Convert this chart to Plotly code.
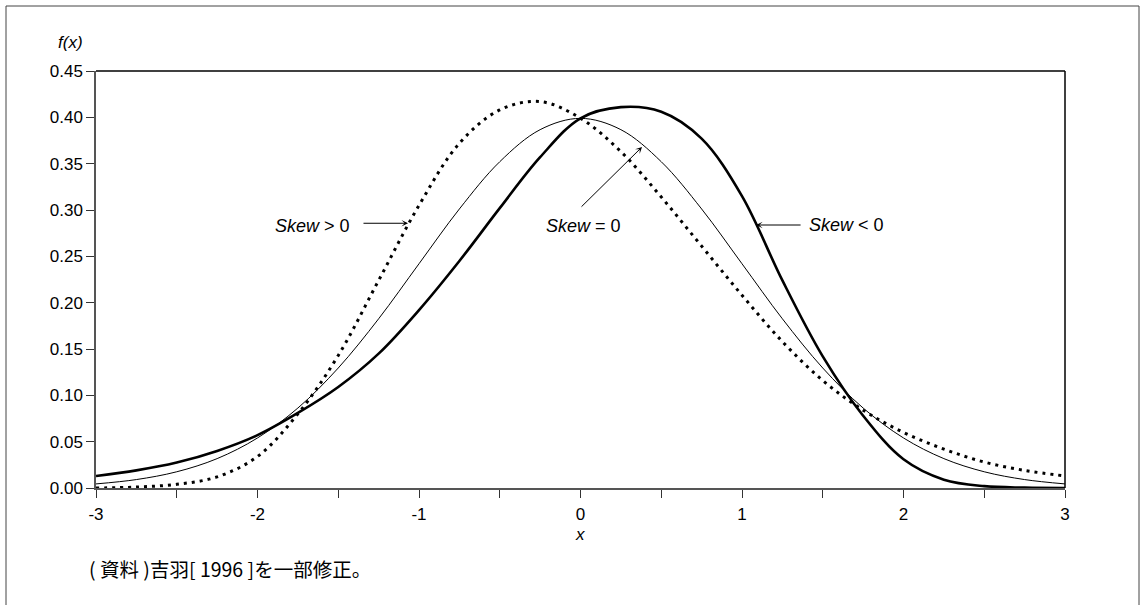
import plotly.graph_objects as go

# x grid (read positions)
x_vals = [-3.0, -2.75, -2.5, -2.25, -2.0, -1.75, -1.5, -1.25, -1.0, -0.75, -0.5, -0.25,
          0.0, 0.25, 0.5, 0.75, 1.0, 1.25, 1.5, 1.75, 2.0, 2.25, 2.5, 2.75, 3.0]

# Skew = 0 (thin solid)
f_skew_zero = [0.0044, 0.0091, 0.0175, 0.0317, 0.0540, 0.0863, 0.1295, 0.1826, 0.2420,
               0.3011, 0.3521, 0.3867, 0.3989, 0.3867, 0.3521, 0.3011, 0.2420, 0.1826,
               0.1295, 0.0863, 0.0540, 0.0317, 0.0175, 0.0091, 0.0044]

# Skew > 0 (dotted)
f_skew_pos = [0.000, 0.001, 0.004, 0.012, 0.034, 0.080, 0.143, 0.224, 0.305, 0.372,
              0.408, 0.417, 0.399, 0.363, 0.314, 0.261, 0.208, 0.158, 0.116, 0.084,
              0.060, 0.042, 0.028, 0.019, 0.013]

# Skew < 0 (thick solid)
f_skew_neg = [0.013, 0.019, 0.0275, 0.040, 0.057, 0.081, 0.109, 0.145, 0.192, 0.245,
              0.302, 0.357, 0.399, 0.411, 0.406, 0.377, 0.315, 0.224, 0.142, 0.078,
              0.031, 0.009, 0.002, 0.0004, 0.000]

x_tick_vals = [-3, -2.5, -2, -1.5, -1, -0.5, 0, 0.5, 1, 1.5, 2, 2.5, 3]
x_tick_text = ["-3", "", "-2", "", "-1", "", "0", "", "1", "", "2", "", "3"]
y_tick_vals = [0.0, 0.05, 0.10, 0.15, 0.20, 0.25, 0.30, 0.35, 0.40, 0.45]

FONT = "Liberation Sans, Arial, sans-serif"
W, H = 1143, 605
L, R, T, B = 96, 78, 71, 117
PW, PH = W - L - R, H - T - B

def px_to_paper(px, py):
    return (px - L) / PW, (H - B - py) / PH

fig = go.Figure()
fig.add_trace(go.Scatter(x=x_vals, y=f_skew_zero, mode="lines",
                         line=dict(color="black", width=1, shape="spline", smoothing=1.0),
                         showlegend=False, hoverinfo="skip"))
fig.add_trace(go.Scatter(x=x_vals, y=f_skew_pos, mode="lines",
                         line=dict(color="black", width=3, dash="3px,5px", shape="spline", smoothing=1.0),
                         showlegend=False, hoverinfo="skip"))
fig.add_trace(go.Scatter(x=x_vals, y=f_skew_neg, mode="lines",
                         line=dict(color="black", width=2.6, shape="spline", smoothing=1.0),
                         showlegend=False, hoverinfo="skip"))

fig.update_layout(
    width=W, height=H,
    margin=dict(l=L, r=R, t=T, b=B, pad=0),
    paper_bgcolor="white", plot_bgcolor="white",
    font=dict(family=FONT, size=17, color="black"),
    xaxis=dict(range=[-3, 3], tickmode="array", tickvals=x_tick_vals, ticktext=x_tick_text,
               ticks="outside", ticklen=8, tickwidth=1, tickcolor="#333",
               showline=True, linecolor="#555", linewidth=1.5, showgrid=False, zeroline=False,
               tickfont=dict(family=FONT, size=17), ticklabelstandoff=2, fixedrange=True),
    yaxis=dict(range=[0, 0.45], tickmode="array", tickvals=y_tick_vals, tickformat=".2f",
               ticks="outside", ticklen=8, tickwidth=1, tickcolor="#333",
               showline=True, linecolor="#555", linewidth=1.5, showgrid=False, zeroline=False,
               tickfont=dict(family=FONT, size=17), fixedrange=True),
)

# plot frame top / right lines
fig.add_shape(type="line", xref="paper", yref="paper", x0=0, x1=1, y0=1, y1=1,
              line=dict(color="black", width=1.5))
fig.add_shape(type="line", xref="paper", yref="paper", x0=1, x1=1, y0=0, y1=1,
              line=dict(color="black", width=1.5))

# outer border
x0p, y0p = px_to_paper(6, 608)
x1p, y1p = px_to_paper(1139, 6)
fig.add_shape(type="rect", xref="paper", yref="paper", x0=x0p, x1=x1p, y0=y0p, y1=y1p,
              line=dict(color="#444", width=1), layer="below")

# axis titles
ax, ay = px_to_paper(70, 43)
fig.add_annotation(text="<i>f(x)</i>", xref="paper", yref="paper", x=ax, y=ay,
                   showarrow=False, font=dict(family=FONT, size=17), xanchor="center", yanchor="middle")
ax, ay = px_to_paper(580, 534)
fig.add_annotation(text="<i>x</i>", xref="paper", yref="paper", x=ax, y=ay,
                   showarrow=False, font=dict(family=FONT, size=17), xanchor="center", yanchor="middle")

# footnote
ax, ay = px_to_paper(87, 568)
fig.add_annotation(text="( 資料 )吉羽[ 1996 ]を一部修正。", xref="paper", yref="paper", x=ax, y=ay,
                   showarrow=False, font=dict(family="Noto Sans CJK JP", size=19.5),
                   xanchor="left", yanchor="middle")

# curve labels
fig.add_annotation(text="<i>Skew</i> &gt; 0", x=-1.66, y=0.283, xref="x", yref="y",
                   showarrow=False, font=dict(family=FONT, size=18), xanchor="center", yanchor="middle")
fig.add_annotation(text="<i>Skew</i> = 0", x=0.02, y=0.283, xref="x", yref="y",
                   showarrow=False, font=dict(family=FONT, size=18), xanchor="center", yanchor="middle")
fig.add_annotation(text="<i>Skew</i> &lt; 0", x=1.645, y=0.284, xref="x", yref="y",
                   showarrow=False, font=dict(family=FONT, size=18), xanchor="center", yanchor="middle")

# arrows
arrow_style = dict(showarrow=True, arrowhead=3, arrowsize=1.1, arrowwidth=1, arrowcolor="black",
                   axref="x", ayref="y", xref="x", yref="y", text="")
fig.add_annotation(x=-1.068, y=0.2857, ax=-1.353, ay=0.2857, **arrow_style)
fig.add_annotation(x=0.381, y=0.368, ax=-0.003, ay=0.302, **arrow_style)
fig.add_annotation(x=1.087, y=0.2838, ax=1.372, ay=0.2838, **arrow_style)

fig.write_html("out.html")
